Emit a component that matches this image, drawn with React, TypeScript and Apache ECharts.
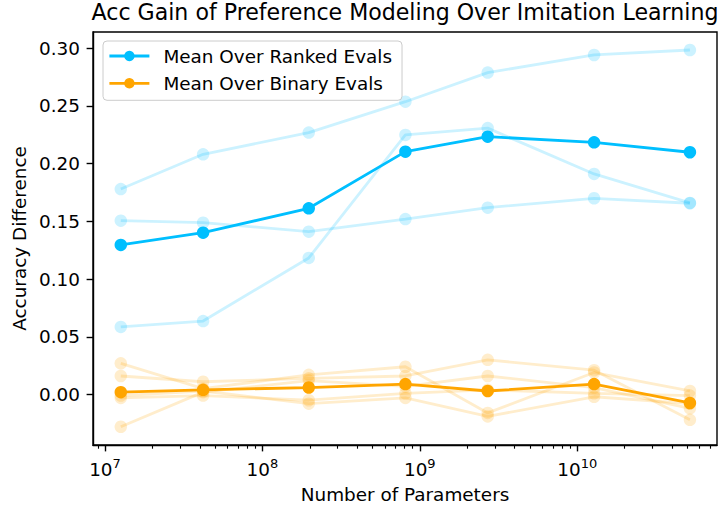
import React, { useEffect, useRef } from "react";
import * as echarts from "echarts";

// ---- data ----
const PARAMS = [1.26e7, 4.2e7, 1.97e8, 8.1e8, 2.7e9, 1.28e10, 5.2e10];

const RANKED_MEAN = [0.1296, 0.1402, 0.1613, 0.2104, 0.2234, 0.2185, 0.2099];
const RANKED_EVAL_1 = [0.178, 0.2081, 0.2269, 0.2537, 0.2789, 0.2942, 0.2985];
const RANKED_EVAL_2 = [0.1506, 0.1489, 0.1411, 0.152, 0.1619, 0.17, 0.1657];
const RANKED_EVAL_3 = [0.0585, 0.0636, 0.1183, 0.2249, 0.2308, 0.1911, 0.166];

const BINARY_MEAN = [0.002, 0.004, 0.006, 0.009, 0.003, 0.009, -0.0074];
const BINARY_EVAL_1 = [0.027, 0.005, 0.017, 0.024, -0.016, 0.019, 0.003];
const BINARY_EVAL_2 = [0.016, 0.011, 0.014, 0.016, 0.03, 0.021, -0.022];
const BINARY_EVAL_3 = [-0.003, -0.001, -0.005, 0.001, 0.004, 0.001, -0.001];
const BINARY_EVAL_4 = [-0.028, 0.002, 0.012, 0.007, 0.016, 0.006, -0.012];
const BINARY_EVAL_5 = [-0.001, 0.003, -0.008, -0.003, -0.019, -0.002, -0.008];

const Y_TICKS = [0, 0.05, 0.1, 0.15, 0.2, 0.25, 0.3];
const X_DECADES = [7, 8, 9, 10];
const X_MINOR_MULTIPLIERS = [2, 3, 4, 5, 6, 7, 8, 9];
const X_MINOR_DECADES = [6, 7, 8, 9, 10];

const TITLE = "Acc Gain of Preference Modeling Over Imitation Learning";
const X_NAME = "Number of Parameters";
const Y_NAME = "Accuracy Difference";
const RANKED_MEAN_NAME = "Mean Over Ranked Evals";
const BINARY_MEAN_NAME = "Mean Over Binary Evals";

const BLUE = "#00BFFF";
const ORANGE = "#FFA500";
const FONT = "DejaVu Sans";

const X_MIN = 6.9238;
const X_MAX = 10.888;
const Y_MIN = -0.0438;
const Y_MAX = 0.3141;

function toPoints(vals: number[]) {
  return vals.map((v, i) => [Math.log10(PARAMS[i]), v]);
}

function lightSeries(name: string, vals: number[], color: string) {
  return {
    name,
    type: "line",
    data: toPoints(vals),
    symbol: "circle",
    symbolSize: 12.5,
    itemStyle: { color, opacity: 0.2 },
    lineStyle: { color, width: 2.8, opacity: 0.2 },
    silent: true,
    z: 2,
  };
}

function meanSeries(name: string, vals: number[], color: string) {
  return {
    name,
    type: "line",
    data: toPoints(vals),
    symbol: "circle",
    symbolSize: 12.5,
    itemStyle: { color, opacity: 1 },
    lineStyle: { color, width: 2.8 },
    z: 5,
  };
}

export default function App() {
  const ref = useRef<HTMLDivElement>(null);
  useEffect(() => {
    if (!ref.current) return;
    const chart = echarts.init(ref.current, null, { renderer: "svg" });
    const minorTicks: number[] = [];
    X_MINOR_DECADES.forEach((d) =>
      X_MINOR_MULTIPLIERS.forEach((m) => {
        const v = Math.log10(m) + d;
        if (v > X_MIN && v < X_MAX) minorTicks.push(v);
      })
    );
    const option: any = {
      animation: false,
      backgroundColor: "#ffffff",
      textStyle: { fontFamily: FONT },
      title: {
        text: TITLE,
        left: 405,
        top: 1,
        padding: 0,
        textAlign: "center",
        textStyle: { fontFamily: FONT, fontSize: 22.1, fontWeight: "normal", color: "#000" },
      },
      grid: {
        left: 93,
        right: 5,
        top: 32,
        bottom: 61,
        show: true,
        borderColor: "#000",
        borderWidth: 1.4,
        backgroundColor: "transparent",
        containLabel: false,
        outerBoundsMode: "none",
      },
      legend: {
        data: [RANKED_MEAN_NAME, BINARY_MEAN_NAME],
        orient: "vertical",
        left: 103,
        top: 41,
        padding: [6, 10, 8, 5],
        itemGap: 9.3,
        itemWidth: 40,
        itemHeight: 13,
        borderColor: "#cccccc",
        borderWidth: 1,
        borderRadius: 4,
        backgroundColor: "rgba(255,255,255,0.8)",
        lineStyle: { width: 2.8 },
        formatter: (name: string) => `{t|${name}}`,
        textStyle: {
          fontFamily: FONT,
          fontSize: 18.4,
          color: "#000",
          rich: {
            t: { fontFamily: FONT, fontSize: 18.4, lineHeight: 18, padding: [0, 0, 0, 9], color: "#000" },
          },
        },
      },
      xAxis: [
        {
          type: "value",
          min: X_MIN,
          max: X_MAX,
          name: X_NAME,
          nameLocation: "middle",
          nameGap: 40,
          nameTextStyle: { fontFamily: FONT, fontSize: 18.4, color: "#000" },
          axisLine: { show: true, onZero: false, lineStyle: { color: "#000", width: 1.4 } },
          axisTick: {
            show: true,
            length: 6.4,
            customValues: X_DECADES,
            lineStyle: { color: "#000", width: 1.4 },
          },
          splitLine: { show: false },
          axisLabel: {
            customValues: X_DECADES,
            margin: 11.5,
            color: "#000",
            formatter: (v: number) => `{b|10}{s|${Math.round(v)}}`,
            rich: {
              b: { fontFamily: FONT, fontSize: 18.4, lineHeight: 22, verticalAlign: "bottom", color: "#000" },
              s: { fontFamily: FONT, fontSize: 13, lineHeight: 10, verticalAlign: "top", color: "#000" },
            },
          },
        },
        {
          type: "value",
          min: X_MIN,
          max: X_MAX,
          position: "bottom",
          axisLine: { show: false, onZero: false },
          axisTick: {
            show: true,
            length: 3.7,
            customValues: minorTicks,
            lineStyle: { color: "#000", width: 1.1 },
          },
          axisLabel: { show: false },
          splitLine: { show: false },
        },
      ],
      yAxis: {
        type: "value",
        min: Y_MIN,
        max: Y_MAX,
        name: Y_NAME,
        nameLocation: "middle",
        nameGap: 62,
        nameTextStyle: { fontFamily: FONT, fontSize: 18.4, color: "#000" },
        axisLine: { show: true, onZero: false, lineStyle: { color: "#000", width: 1.4 } },
        axisTick: {
          show: true,
          length: 6.4,
          customValues: Y_TICKS,
          lineStyle: { color: "#000", width: 1.4 },
        },
        splitLine: { show: false },
        axisLabel: {
          customValues: Y_TICKS,
          margin: 13,
          fontFamily: FONT,
          fontSize: 18.4,
          color: "#000",
          formatter: (v: number) => v.toFixed(2),
        },
      },
      series: [
        lightSeries("Ranked Eval 1", RANKED_EVAL_1, BLUE),
        lightSeries("Ranked Eval 2", RANKED_EVAL_2, BLUE),
        lightSeries("Ranked Eval 3", RANKED_EVAL_3, BLUE),
        lightSeries("Binary Eval 1", BINARY_EVAL_1, ORANGE),
        lightSeries("Binary Eval 2", BINARY_EVAL_2, ORANGE),
        lightSeries("Binary Eval 3", BINARY_EVAL_3, ORANGE),
        lightSeries("Binary Eval 4", BINARY_EVAL_4, ORANGE),
        lightSeries("Binary Eval 5", BINARY_EVAL_5, ORANGE),
        meanSeries(RANKED_MEAN_NAME, RANKED_MEAN, BLUE),
        meanSeries(BINARY_MEAN_NAME, BINARY_MEAN, ORANGE),
      ],
    };
    chart.setOption(option);
    return () => chart.dispose();
  }, []);
  return (
    <div
      ref={ref}
      style={{ position: "fixed", left: 0, top: 0, width: 722, height: 506 }}
    />
  );
}
